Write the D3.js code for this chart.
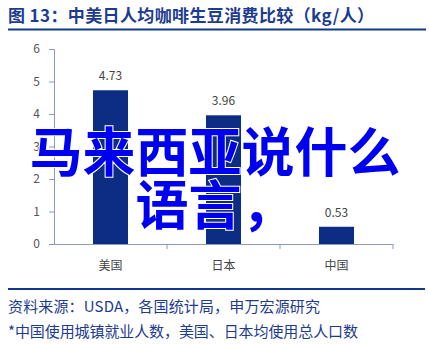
<!DOCTYPE html>
<html>
<head>
<meta charset="utf-8">
<script src="https://cdn.jsdelivr.net/npm/d3@7"></script>
<style>
  body { margin: 0; background: #fff; }
  text { font-family: "Noto Sans CJK SC", "Liberation Sans", sans-serif; }
</style>
</head>
<body>
<script>
// data
var countries = ["美国", "日本", "中国"];
var consumption = [4.73, 3.96, 0.53];
var yTicks = [0, 1, 2, 3, 4, 5, 6];

var W = 429, H = 344;
var margin = {top: 49, right: 36, bottom: 100, left: 54};

var svg = d3.select("body").append("svg")
  .attr("width", W)
  .attr("height", H);

// title
svg.append("text")
  .attr("x", 8).attr("y", 22)
  .attr("font-size", 17).attr("font-weight", "bold")
  .attr("fill", "#1d3b8f")
  .attr("textLength", 366).attr("lengthAdjust", "spacing")
  .text("图 13：中美日人均咖啡生豆消费比较（kg/人）");
svg.append("line")
  .attr("x1", 8).attr("x2", 426).attr("y1", 29.5).attr("y2", 29.5)
  .attr("stroke", "#0f3a8c").attr("stroke-width", 2);

var x = d3.scaleBand()
  .domain(countries)
  .range([margin.left, W - margin.right])
  .paddingInner(0.69).paddingOuter(0.345);

var y = d3.scaleLinear()
  .domain([0, 6])
  .range([244, 49]);

// y axis
var yAxis = svg.append("g")
  .attr("transform", "translate(" + margin.left + ",0)")
  .call(d3.axisLeft(y).tickValues(yTicks).tickSize(5).tickPadding(9).tickFormat(d3.format("d")));
yAxis.select(".domain").attr("stroke", "#8a9bb8");
yAxis.selectAll(".tick line").attr("stroke", "#8a9bb8");
yAxis.selectAll(".tick text")
  .attr("font-family", "Liberation Sans, Arial, sans-serif")
  .attr("font-size", 12).attr("fill", "#555");

// bars
svg.selectAll("rect.bar")
  .data(consumption)
  .enter().append("rect")
  .attr("class", "bar")
  .attr("x", function(d, i) { return x(countries[i]); })
  .attr("width", x.bandwidth())
  .attr("y", function(d) { return y(d); })
  .attr("height", function(d) { return y(0) - y(d); })
  .attr("fill", "#0c2d83");

// value labels
svg.selectAll("text.val")
  .data(consumption)
  .enter().append("text")
  .attr("class", "val")
  .attr("x", function(d, i) { return x(countries[i]) + x.bandwidth() / 2; })
  .attr("y", function(d) { return y(d) - 10; })
  .attr("text-anchor", "middle")
  .attr("font-family", "Liberation Sans, Arial, sans-serif")
  .attr("font-size", 12).attr("fill", "#444")
  .text(function(d) { return d.toFixed(2); });

// x axis with boundary ticks
var xg = svg.append("g");
xg.append("line")
  .attr("x1", margin.left).attr("x2", W - margin.right)
  .attr("y1", y(0) + 0.5).attr("y2", y(0) + 0.5)
  .attr("stroke", "#8a9bb8");
var step = x.step();
countries.forEach(function(c, i) {
  var bx = x(c) + x.bandwidth() / 2 + step / 2;
  xg.append("line")
    .attr("x1", bx).attr("x2", bx)
    .attr("y1", y(0)).attr("y2", y(0) + 5)
    .attr("stroke", "#8a9bb8");
  xg.append("text")
    .attr("x", x(c) + x.bandwidth() / 2)
    .attr("y", 270)
    .attr("text-anchor", "middle")
    .attr("font-size", 12).attr("fill", "#444")
    .text(c);
});

// footer
svg.append("line")
  .attr("x1", 8).attr("x2", 425).attr("y1", 289).attr("y2", 289)
  .attr("stroke", "#0f3a8c").attr("stroke-width", 2);
svg.append("text")
  .attr("x", 8).attr("y", 312)
  .attr("font-size", 15).attr("fill", "#1d3b8f")
  .attr("textLength", 312).attr("lengthAdjust", "spacing")
  .text("资料来源：USDA，各国统计局，申万宏源研究");
svg.append("text")
  .attr("x", 8).attr("y", 337)
  .attr("font-size", 15).attr("fill", "#1d3b8f")
  .attr("textLength", 350).attr("lengthAdjust", "spacing")
  .text("*中国使用城镇就业人数，美国、日本均使用总人口数");

// overlay text
var overlay = ["马来西亚说什么", "语言，"];
svg.selectAll("text.overlay")
  .data(overlay)
  .enter().append("text")
  .attr("class", "overlay")
  .attr("x", 215)
  .attr("y", function(d, i) { return 172 + i * 53; })
  .attr("text-anchor", "middle")
  .attr("font-size", 53).attr("font-weight", "bold")
  .attr("fill", "#0000f0")
  .attr("stroke", "#fff").attr("stroke-width", 2)
  .attr("paint-order", "stroke")
  .text(function(d) { return d; });
</script>
</body>
</html>
